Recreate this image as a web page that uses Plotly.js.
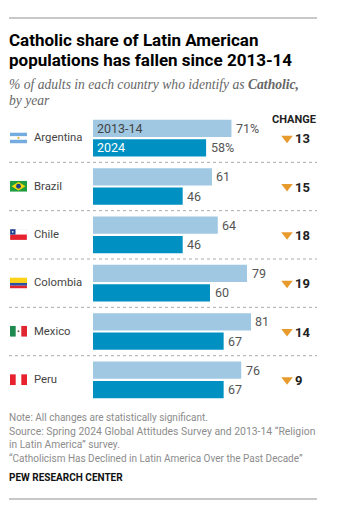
<!DOCTYPE html>
<html><head><meta charset="utf-8">
<script src="https://cdn.plot.ly/plotly-3.0.1.min.js"></script>
<style>html,body{margin:0;padding:0;background:#fff}#c{width:357px;height:518px}</style></head>
<body><div id="c"></div>
<script>
const countries=["Argentina","Brazil","Chile","Colombia","Mexico","Peru"];
const y2013=[71,61,64,79,81,76];
const y2024=[58,46,46,60,67,67];
const changes=[13,15,18,19,14,9];
const seriesNames=["2013-14","2024"];
const L=93,W=264,T=114.2,H=289.4,PXU=1.95;
const CHANGE_X=99.5;
const px=x=>(x-L)/W, py=y=>1-(y-T)/H;
const SANS="Roboto, 'Liberation Sans', sans-serif";
const SERIF="'Liberation Serif', serif";
function label(arr,pct){return arr.map((v,i)=>i===0&&pct?v+"%":""+v);}
const flag=s=>"data:image/svg+xml;utf8,"+encodeURIComponent('<svg xmlns="http://www.w3.org/2000/svg" width="170" height="110" viewBox="0 0 17 11">'+s+'</svg>');
const flags=[
 '<rect width="17" height="11" fill="#fff"/><rect width="17" height="3.7" fill="#74acdf"/><rect y="7.3" width="17" height="3.7" fill="#74acdf"/><circle cx="8.5" cy="5.5" r="1.1" fill="#e8b33a"/>',
 '<rect width="17" height="11" fill="#1f9e3f"/><path d="M8.5 1.2 15.5 5.5 8.5 9.8 1.5 5.5Z" fill="#f5d90a"/><circle cx="8.5" cy="5.5" r="2.4" fill="#233f8a"/>',
 '<rect width="17" height="5.5" fill="#fff"/><rect y="5.5" width="17" height="5.5" fill="#e8212e"/><rect width="5.5" height="5.5" fill="#1f3f8f"/><circle cx="2.75" cy="2.75" r=".9" fill="#fff"/><rect width="17" height="11" fill="none" stroke="#ddd" stroke-width=".4"/>',
 '<rect width="17" height="5.5" fill="#fcd116"/><rect y="5.5" width="17" height="2.75" fill="#2c4fa3"/><rect y="8.25" width="17" height="2.75" fill="#e0252f"/>',
 '<rect width="17" height="11" fill="#fff"/><rect width="5.7" height="11" fill="#1f8a50"/><rect x="11.3" width="5.7" height="11" fill="#e0252f"/><circle cx="8.5" cy="5.5" r="1" fill="#7a5a3a"/>',
 '<rect width="17" height="11" fill="#fff"/><rect width="5.7" height="11" fill="#e8212e"/><rect x="11.3" width="5.7" height="11" fill="#e8212e"/>'
];
const flagTop=[132.6,180.8,229,277.3,325.5,373.8];
const annotations=[];
const txt=(x,y,text,size,color,family,extra)=>annotations.push(Object.assign({xref:"paper",yref:"paper",x:px(x-2),y:py(y),text,showarrow:false,xanchor:"left",yanchor:"middle",align:"left",font:{size,color,family}},extra||{}));
txt(9,40.5,"<b>Catholic share of Latin American</b>",17,"#000",SANS);
txt(9,60.5,"<b>populations has fallen since 2013-14</b>",17,"#000",SANS);
txt(9,84.5,"<i>% of adults in each country who identify as <b>Catholic,</b></i>",13.6,"#666",SERIF);
txt(9,100.5,"<i>by year</i>",13.6,"#666",SERIF);
txt(272,120,"<b>CHANGE</b>",11,"#222",SANS);
countries.forEach(c=>annotations.push({xref:"paper",yref:"y",x:px(32),y:c,text:c,showarrow:false,xanchor:"left",yanchor:"middle",yshift:0.5,font:{size:11.3,color:"#444",family:SANS}}));
const a0=countries[0];
annotations.push({xref:"x",yref:"y",x:0,y:a0,xshift:2,yshift:9.6,text:seriesNames[0],showarrow:false,xanchor:"left",yanchor:"middle",font:{size:12.5,color:"#444",family:SANS}});
annotations.push({xref:"x",yref:"y",x:0,y:a0,xshift:2,yshift:-9.6,text:seriesNames[1],showarrow:false,xanchor:"left",yanchor:"middle",font:{size:12.5,color:"#fff",family:SANS}});
[[y2013,9.6],[y2024,-9.6]].forEach(([arr,ys])=>label(arr,true).forEach((t,i)=>annotations.push({xref:"x",yref:"y",x:arr[i],y:countries[i],xshift:2.5,yshift:ys,text:t,showarrow:false,xanchor:"left",yanchor:"middle",font:{size:12.5,color:"#555",family:SANS}})));
changes.forEach((v,i)=>annotations.push({xref:"x",yref:"y",x:CHANGE_X,y:countries[i],xshift:6,yshift:-0.8,text:"<b>"+v+"</b>",showarrow:false,xanchor:"left",yanchor:"middle",font:{size:13,color:"#222",family:SANS}}));
const G="#8c8c8c";
txt(9,417.5,"Note: All changes are statistically significant.",10,G,SANS);
txt(9,431,"Source: Spring 2024 Global Attitudes Survey and 2013-14 “Religion",10.4,G,SANS);
txt(9,444.5,"in Latin America” survey.",10.2,G,SANS);
txt(9,458,"“Catholicism Has Declined in Latin America Over the Past Decade”",10,G,SANS);
txt(9,477,"<b>PEW RESEARCH CENTER</b>",10,"#111",SANS);
const shapes=[18.5,498.5].map(y=>({type:"line",xref:"paper",yref:"paper",x0:px(9),x1:px(317),y0:py(y),y1:py(y),line:{color:"#c8c8c8",width:2}}));
[0.5,1.5,2.5,3.5,4.5].forEach(y=>shapes.push({type:"line",xref:"paper",yref:"y",x0:px(9),x1:px(317),y0:y,y1:y,line:{color:"#aaa",width:1,dash:"dot"}}));
const images=flags.map((f,i)=>({source:flag(f),xref:"paper",yref:"paper",x:px(10),y:py(flagTop[i]),sizex:17/W,sizey:11/H,xanchor:"left",yanchor:"top",sizing:"stretch",layer:"above"}));
const data=[
 {type:"bar",orientation:"h",name:seriesNames[0],y:countries,x:y2013,marker:{color:"#a0c8e2"},hoverinfo:"skip"},
 {type:"bar",orientation:"h",name:seriesNames[1],y:countries,x:y2024,marker:{color:"#0091c2"},hoverinfo:"skip"},
 {type:"scatter",mode:"markers",y:countries,x:countries.map(()=>CHANGE_X),marker:{symbol:"triangle-down",size:10,color:"#e89b2d"},cliponaxis:false,hoverinfo:"skip"}
];
const layout={width:357,height:518,paper_bgcolor:"#fff",plot_bgcolor:"#fff",showlegend:false,
 margin:{l:L,r:0,t:T,b:518-T-H,pad:0},barmode:"group",bargap:0.195,bargroupgap:0.113,
 xaxis:{range:[0,W/PXU],visible:false,fixedrange:true},
 yaxis:{type:"category",categoryorder:"array",categoryarray:countries,range:[5.5,-0.5],visible:false,fixedrange:true},
 annotations,shapes,images};
Plotly.newPlot("c",data,layout,{displayModeBar:false,staticPlot:true});
</script></body></html>
